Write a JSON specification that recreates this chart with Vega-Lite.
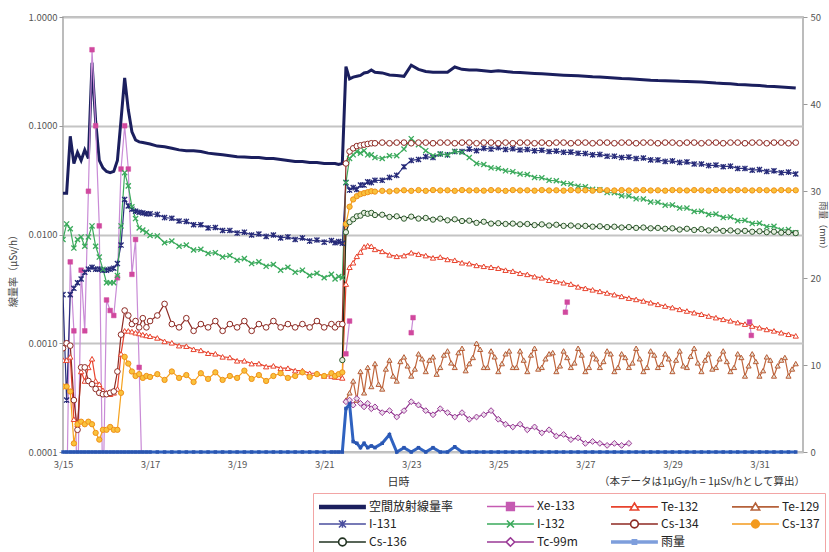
{
"$schema":"https://vega.github.io/schema/vega-lite/v6.json",
"width":740,"height":435,
"autosize":{"type":"none"},
"padding":{"left":63,"top":17,"right":26,"bottom":100},
"data":{"values":[
{"h":0,"A":0.024,"T2":0.0007,"I1":0.0028,"I2":0.009,"C4":0.0009,"C7":0.0004,"R":0},
{"h":2,"A":0.024,"Xe":0.00003,"T2":0.0007,"I1":0.0003,"I2":0.0125,"C4":0.001,"C7":0.0004,"R":0},
{"h":4,"A":0.08,"Xe":0.0056,"T2":0.00075,"I1":0.0028,"I2":0.0113,"C4":0.00095,"C7":0.00036,"R":0},
{"h":6,"A":0.045,"Xe":0.0013,"T2":0.0002,"I1":0.0032,"I2":0.0075,"C4":0.0003,"C7":0.00012,"R":0},
{"h":8,"A":0.057,"Xe":0.00003,"T2":0.00018,"I1":0.0036,"I2":0.009,"C4":0.00016,"C7":0.00018,"R":0},
{"h":10,"A":0.048,"Xe":0.0047,"T2":0.00055,"I1":0.0039,"I2":0.0095,"C4":0.0006,"C7":0.00019,"R":0},
{"h":12,"A":0.06,"Xe":0.0013,"T2":0.00045,"I1":0.0045,"I2":0.0078,"C4":0.0006,"C7":0.00018,"R":0},
{"h":14,"A":0.05,"Xe":0.025,"T2":0.0006,"I1":0.0048,"I2":0.0095,"C4":0.00045,"C7":0.00019,"R":0},
{"h":16,"A":0.38,"Xe":0.5,"T2":0.00072,"I1":0.005,"I2":0.012,"C4":0.00042,"C7":0.00018,"R":0},
{"h":18,"A":0.11,"Xe":0.1,"T2":0.00045,"I1":0.0048,"I2":0.0078,"C4":0.00038,"C7":0.00015,"R":0},
{"h":20,"A":0.048,"Xe":0.012,"T2":0.00042,"I1":0.0048,"I2":0.0062,"C4":0.00035,"C7":0.00013,"R":0},
{"h":22,"A":0.041,"Xe":0.00003,"T2":0.00037,"I1":0.0047,"I2":0.0048,"C4":0.00034,"C7":0.00016,"R":0},
{"h":24,"A":0.038,"Xe":0.0025,"T2":0.00035,"I1":0.0047,"I2":0.0036,"C4":0.00034,"C7":0.00016,"R":0},
{"h":26,"A":0.037,"Xe":0.002,"T2":0.00034,"I1":0.0048,"I2":0.0036,"C4":0.00035,"C7":0.00017,"R":0},
{"h":28,"A":0.038,"Xe":0.0018,"T2":0.00035,"I1":0.0049,"I2":0.0036,"C4":0.00036,"C7":0.00016,"R":0},
{"h":30,"A":0.048,"Xe":0.004,"T2":0.00038,"I1":0.0054,"I2":0.0042,"C4":0.00055,"C7":0.00016,"R":0},
{"h":32,"A":0.113,"Xe":0.04,"T2":0.0008,"I1":0.008,"I2":0.012,"C4":0.0012,"C7":0.00035,"R":0},
{"h":34,"A":0.275,"Xe":0.1,"T2":0.0013,"I1":0.021,"I2":0.037,"C4":0.002,"C7":0.00075,"R":0},
{"h":36,"A":0.14,"Xe":0.04,"T2":0.0013,"I1":0.0183,"I2":0.028,"C4":0.0018,"C7":0.00065,"R":0},
{"h":38,"A":0.088,"Xe":0.0043,"T2":0.00128,"I1":0.0171,"I2":0.018,"C4":0.0015,"C7":0.00055,"R":0},
{"h":40,"A":0.074,"Xe":0.009,"T2":0.00125,"I1":0.0164,"I2":0.014,"C4":0.0016,"C7":0.0005,"R":0},
{"h":42,"A":0.071,"Xe":0.0006,"T2":0.00123,"I1":0.016,"I2":0.0115,"C4":0.0014,"C7":0.00052,"R":0},
{"h":44,"A":0.07,"Xe":0.00003,"T2":0.0012,"I1":0.0158,"I2":0.011,"C4":0.0017,"C7":0.00048,"R":0},
{"h":46,"A":0.069,"T2":0.00118,"I1":0.0155,"I2":0.0105,"C4":0.0014,"C7":0.0005,"R":0},
{"h":48,"A":0.068,"T2":0.00116,"I1":0.0155,"I2":0.0098,"C4":0.0016,"C7":0.00049,"R":0},
{"h":52,"A":0.065,"T2":0.00112,"I1":0.0153,"I2":0.0097,"C4":0.0018,"C7":0.00052,"R":0},
{"h":56,"A":0.064,"T2":0.00104,"I1":0.0143,"I2":0.0084,"C4":0.0023,"C7":0.00046,"R":0},
{"h":60,"A":0.062,"T2":0.00101,"I1":0.0141,"I2":0.0087,"C4":0.0015,"C7":0.00055,"R":0},
{"h":64,"A":0.06,"T2":0.00095,"I1":0.0133,"I2":0.0078,"C4":0.0014,"C7":0.00048,"R":0},
{"h":68,"A":0.059,"T2":0.00094,"I1":0.0132,"I2":0.008,"C4":0.0017,"C7":0.00051,"R":0},
{"h":72,"A":0.059,"T2":0.00088,"I1":0.0123,"I2":0.0072,"C4":0.0013,"C7":0.00044,"R":0},
{"h":76,"A":0.058,"T2":0.00086,"I1":0.0123,"I2":0.0073,"C4":0.0015,"C7":0.00053,"R":0},
{"h":80,"A":0.056,"T2":0.00081,"I1":0.0115,"I2":0.0067,"C4":0.0014,"C7":0.00047,"R":0},
{"h":84,"A":0.055,"T2":0.0008,"I1":0.0116,"I2":0.0068,"C4":0.0016,"C7":0.00054,"R":0},
{"h":88,"A":0.054,"T2":0.00075,"I1":0.0109,"I2":0.0062,"C4":0.0013,"C7":0.00046,"R":0},
{"h":92,"A":0.053,"T2":0.00074,"I1":0.0109,"I2":0.0064,"C4":0.0015,"C7":0.0005,"R":0},
{"h":96,"A":0.052,"T2":0.00069,"I1":0.0103,"I2":0.0058,"C4":0.0014,"C7":0.00048,"R":0},
{"h":100,"A":0.0515,"T2":0.00069,"I1":0.0105,"I2":0.006,"C4":0.0016,"C7":0.00056,"R":0},
{"h":104,"A":0.051,"T2":0.00065,"I1":0.0099,"I2":0.0054,"C4":0.0013,"C7":0.00047,"R":0},
{"h":108,"A":0.051,"T2":0.00065,"I1":0.0101,"I2":0.0056,"C4":0.0015,"C7":0.00051,"R":0},
{"h":112,"A":0.05,"T2":0.00061,"I1":0.0096,"I2":0.0051,"C4":0.0014,"C7":0.00045,"R":0},
{"h":116,"A":0.05,"T2":0.00062,"I1":0.0099,"I2":0.0053,"C4":0.0016,"C7":0.0005,"R":0},
{"h":120,"A":0.049,"T2":0.00059,"I1":0.0093,"I2":0.0047,"C4":0.0014,"C7":0.00053,"R":0},
{"h":124,"A":0.048,"T2":0.00059,"I1":0.0095,"I2":0.005,"C4":0.0015,"C7":0.00048,"R":0},
{"h":128,"A":0.047,"T2":0.00056,"I1":0.009,"I2":0.0045,"C4":0.0014,"C7":0.0005,"R":0},
{"h":132,"A":0.047,"T2":0.00056,"I1":0.0093,"I2":0.0047,"C4":0.0015,"C7":0.00054,"R":0},
{"h":136,"A":0.046,"T2":0.00053,"I1":0.0087,"I2":0.0042,"C4":0.0014,"C7":0.00049,"R":0},
{"h":140,"A":0.046,"T2":0.00053,"I1":0.0089,"I2":0.0044,"C4":0.0016,"C7":0.00052,"R":0},
{"h":144,"A":0.045,"T2":0.0005,"I1":0.0085,"I2":0.004,"C4":0.0014,"C7":0.0005,"R":0},
{"h":148,"A":0.045,"T2":0.0005,"I1":0.0088,"I2":0.0043,"C4":0.0015,"C7":0.00053,"R":0},
{"h":150,"A":0.045,"T2":0.00049,"I1":0.0084,"I2":0.0039,"C4":0.0014,"C7":0.0005,"R":0},
{"h":152,"A":0.044,"T2":0.00049,"I1":0.0086,"I2":0.0041,"C4":0.0015,"C7":0.00052,"R":0},
{"h":154,"A":0.045,"T2":0.00048,"I1":0.0083,"I2":0.004,"C4":0.0015,"C7":0.00054,"C6":0.0007,"R":0},
{"h":156,"A":0.35,"Xe":0.0008,"T2":0.0035,"T9":0.0003,"I1":0.03,"I2":0.03,"C4":0.045,"C7":0.0125,"C6":0.0105,"Tc":0.00029,"R":5.0},
{"h":158,"A":0.27,"Xe":0.0016,"T2":0.005,"T9":0.00035,"I1":0.0256,"I2":0.05,"C4":0.058,"C7":0.018,"C6":0.013,"Tc":0.0003,"R":5.5},
{"h":160,"A":0.28,"T2":0.0055,"T9":0.00045,"I1":0.027,"I2":0.054,"C4":0.062,"C7":0.021,"C6":0.0138,"Tc":0.00027,"R":1.2},
{"h":162,"A":0.285,"T2":0.0063,"T9":0.0003,"I1":0.026,"I2":0.058,"C4":0.065,"C7":0.0225,"C6":0.0147,"Tc":0.00031,"R":1.0},
{"h":164,"A":0.29,"T2":0.0069,"T9":0.00055,"I1":0.0285,"I2":0.056,"C4":0.066,"C7":0.0235,"C6":0.0149,"Tc":0.00028,"R":0.5},
{"h":166,"A":0.306,"T2":0.0077,"T9":0.00035,"I1":0.0285,"I2":0.059,"C4":0.067,"C7":0.024,"C6":0.0158,"Tc":0.00026,"R":1.0},
{"h":168,"A":0.31,"T2":0.0079,"T9":0.0006,"I1":0.0305,"I2":0.054,"C4":0.068,"C7":0.0245,"C6":0.0155,"Tc":0.00028,"R":0.5},
{"h":170,"A":0.326,"T2":0.0078,"T9":0.0004,"I1":0.03,"I2":0.054,"C4":0.069,"C7":0.025,"C6":0.0158,"Tc":0.00025,"R":0.7},
{"h":172,"A":0.31,"T2":0.0073,"T9":0.00065,"I1":0.0315,"I2":0.051,"C4":0.069,"C7":0.0248,"C6":0.0151,"Tc":0.00026,"R":0.5},
{"h":176,"A":0.306,"T2":0.007,"T9":0.00038,"I1":0.0315,"I2":0.05,"C4":0.07,"C7":0.0252,"C6":0.0152,"Tc":0.00023,"R":1.0},
{"h":180,"A":0.293,"T2":0.0065,"T9":0.0007,"I1":0.0335,"I2":0.053,"C4":0.069,"C7":0.0249,"C6":0.0145,"Tc":0.00024,"R":2.0},
{"h":184,"A":0.29,"T2":0.0063,"T9":0.00045,"I1":0.035,"I2":0.053,"C4":0.07,"C7":0.0253,"C6":0.0147,"Tc":0.00021,"R":0},
{"h":188,"A":0.285,"T2":0.0064,"T9":0.00075,"I1":0.042,"I2":0.061,"C4":0.07,"C7":0.0255,"C6":0.014,"Tc":0.00024,"R":0.5},
{"h":192,"A":0.36,"Xe":0.00125,"T2":0.0068,"T9":0.0005,"I1":0.048,"I2":0.076,"C4":0.069,"C7":0.0252,"C6":0.0146,"Tc":0.00029,"R":0},
{"h":193,"Xe":0.00172},
{"h":196,"A":0.33,"T2":0.0066,"T9":0.0008,"I1":0.049,"I2":0.067,"C4":0.07,"C7":0.0256,"C6":0.014,"Tc":0.00027,"R":0.5},
{"h":200,"A":0.315,"T2":0.0064,"T9":0.00055,"I1":0.052,"I2":0.059,"C4":0.07,"C7":0.0252,"C6":0.0142,"Tc":0.00024,"R":0},
{"h":204,"A":0.31,"T2":0.0061,"T9":0.00075,"I1":0.051,"I2":0.053,"C4":0.069,"C7":0.0256,"C6":0.0137,"Tc":0.00022,"R":0.5},
{"h":208,"A":0.31,"T2":0.0062,"T9":0.0006,"I1":0.055,"I2":0.055,"C4":0.07,"C7":0.0254,"C6":0.014,"Tc":0.00025,"R":0},
{"h":212,"A":0.31,"T2":0.0059,"T9":0.00085,"I1":0.054,"I2":0.054,"C4":0.07,"C7":0.0255,"C6":0.0135,"Tc":0.00023,"R":0},
{"h":216,"A":0.347,"T2":0.0058,"T9":0.0006,"I1":0.058,"I2":0.058,"C4":0.069,"C7":0.0252,"C6":0.0138,"Tc":0.00021,"R":0.6},
{"h":220,"A":0.33,"T2":0.0055,"T9":0.0009,"I1":0.058,"I2":0.057,"C4":0.07,"C7":0.0256,"C6":0.0133,"Tc":0.00023,"R":0},
{"h":224,"A":0.325,"T2":0.0054,"T9":0.00065,"I1":0.061,"I2":0.051,"C4":0.07,"C7":0.0254,"C6":0.0134,"Tc":0.0002,"R":0},
{"h":228,"A":0.325,"T2":0.0052,"T9":0.001,"I1":0.059,"I2":0.045,"C4":0.069,"C7":0.0255,"C6":0.0128,"Tc":0.00021,"R":0},
{"h":232,"A":0.32,"T2":0.0051,"T9":0.0006,"I1":0.062,"I2":0.044,"C4":0.07,"C7":0.0253,"C6":0.0131,"Tc":0.00022,"R":0},
{"h":236,"A":0.315,"T2":0.005,"T9":0.00085,"I1":0.061,"I2":0.041,"C4":0.07,"C7":0.0256,"C6":0.0126,"Tc":0.00024,"R":0},
{"h":240,"A":0.32,"T2":0.0049,"T9":0.00055,"I1":0.063,"I2":0.0405,"C4":0.069,"C7":0.0255,"C6":0.0127,"Tc":0.0002,"R":0},
{"h":244,"A":0.315,"T2":0.0047,"T9":0.0008,"I1":0.0605,"I2":0.0385,"C4":0.07,"C7":0.0252,"C6":0.0125,"Tc":0.00018,"R":0},
{"h":248,"A":0.31,"T2":0.0046,"T9":0.0006,"I1":0.0615,"I2":0.0378,"C4":0.069,"C7":0.0256,"C6":0.0126,"Tc":0.00017,"R":0},
{"h":252,"A":0.308,"T2":0.0044,"T9":0.00085,"I1":0.0598,"I2":0.036,"C4":0.07,"C7":0.0254,"C6":0.0124,"Tc":0.00018,"R":0},
{"h":256,"A":0.305,"T2":0.0043,"T9":0.00055,"I1":0.0605,"I2":0.0356,"C4":0.07,"C7":0.0255,"C6":0.0125,"Tc":0.00016,"R":0},
{"h":260,"A":0.302,"T2":0.0041,"T9":0.0009,"I1":0.0588,"I2":0.0335,"C4":0.069,"C7":0.0253,"C6":0.0122,"Tc":0.00017,"R":0},
{"h":264,"A":0.3,"T2":0.004,"T9":0.0006,"I1":0.0595,"I2":0.0332,"C4":0.07,"C7":0.0256,"C6":0.0124,"Tc":0.00015,"R":0},
{"h":268,"A":0.298,"T2":0.0038,"T9":0.0008,"I1":0.058,"I2":0.0315,"C4":0.069,"C7":0.0254,"C6":0.0121,"Tc":0.00016,"R":0},
{"h":272,"A":0.295,"T2":0.0037,"T9":0.00055,"I1":0.0585,"I2":0.0312,"C4":0.07,"C7":0.0255,"C6":0.0123,"Tc":0.00014,"R":0},
{"h":276,"A":0.292,"T2":0.0036,"T9":0.00085,"I1":0.057,"I2":0.0296,"C4":0.07,"C7":0.0253,"C6":0.012,"Tc":0.000145,"R":0},
{"h":277,"Xe":0.00193},
{"h":278,"Xe":0.00239,"T9":0.00074},
{"h":280,"A":0.29,"T2":0.0035,"T9":0.0006,"I1":0.0572,"I2":0.0292,"C4":0.069,"C7":0.0256,"C6":0.0121,"Tc":0.00013,"R":0},
{"h":284,"A":0.288,"T2":0.0033,"T9":0.0009,"I1":0.0558,"I2":0.0278,"C4":0.07,"C7":0.0254,"C6":0.0119,"Tc":0.000135,"R":0},
{"h":288,"A":0.285,"T2":0.0032,"T9":0.00055,"I1":0.0555,"I2":0.0275,"C4":0.07,"C7":0.0255,"C6":0.012,"Tc":0.00012,"R":0},
{"h":292,"A":0.282,"T2":0.0031,"T9":0.0008,"I1":0.054,"I2":0.026,"C4":0.069,"C7":0.0253,"C6":0.0118,"Tc":0.000125,"R":0},
{"h":296,"A":0.28,"T2":0.003,"T9":0.0006,"I1":0.0545,"I2":0.0258,"C4":0.07,"C7":0.0256,"C6":0.0119,"Tc":0.00012,"R":0},
{"h":300,"A":0.278,"T2":0.0029,"T9":0.00085,"I1":0.0525,"I2":0.0243,"C4":0.07,"C7":0.0255,"C6":0.0117,"Tc":0.000115,"R":0},
{"h":304,"A":0.275,"T2":0.0028,"T9":0.00055,"I1":0.0525,"I2":0.0242,"C4":0.069,"C7":0.0254,"C6":0.0118,"Tc":0.00012,"R":0},
{"h":308,"A":0.272,"T2":0.0027,"T9":0.0008,"I1":0.051,"I2":0.0227,"C4":0.07,"C7":0.0256,"C6":0.0116,"Tc":0.000115,"R":0},
{"h":312,"A":0.27,"T2":0.0026,"T9":0.0006,"I1":0.0515,"I2":0.0226,"C4":0.07,"C7":0.0254,"C6":0.0117,"Tc":0.00012,"R":0},
{"h":316,"A":0.268,"T2":0.00253,"T9":0.0009,"I1":0.05,"I2":0.0213,"C4":0.069,"C7":0.0255,"C6":0.0115,"R":0},
{"h":320,"A":0.265,"T2":0.00245,"T9":0.00055,"I1":0.0505,"I2":0.0212,"C4":0.07,"C7":0.0256,"C6":0.0116,"R":0},
{"h":324,"A":0.262,"T2":0.00236,"T9":0.00085,"I1":0.0485,"I2":0.0199,"C4":0.07,"C7":0.0254,"C6":0.0114,"R":0},
{"h":328,"A":0.26,"T2":0.00228,"T9":0.0006,"I1":0.0485,"I2":0.0198,"C4":0.069,"C7":0.0255,"C6":0.0115,"R":0},
{"h":332,"A":0.259,"T2":0.0022,"T9":0.0008,"I1":0.047,"I2":0.0186,"C4":0.07,"C7":0.0253,"C6":0.0113,"R":0},
{"h":336,"A":0.258,"T2":0.00213,"T9":0.00055,"I1":0.0475,"I2":0.0187,"C4":0.07,"C7":0.0256,"C6":0.0114,"R":0},
{"h":340,"A":0.256,"T2":0.00205,"T9":0.00085,"I1":0.046,"I2":0.0175,"C4":0.069,"C7":0.0255,"C6":0.0111,"R":0},
{"h":344,"A":0.255,"T2":0.00198,"T9":0.0006,"I1":0.0465,"I2":0.0175,"C4":0.07,"C7":0.0254,"C6":0.0113,"R":0},
{"h":348,"A":0.254,"T2":0.00191,"T9":0.0009,"I1":0.0445,"I2":0.0163,"C4":0.07,"C7":0.0256,"C6":0.011,"R":0},
{"h":352,"A":0.252,"T2":0.00185,"T9":0.00055,"I1":0.0445,"I2":0.0164,"C4":0.069,"C7":0.0255,"C6":0.0112,"R":0},
{"h":356,"A":0.25,"T2":0.00178,"T9":0.0008,"I1":0.043,"I2":0.0153,"C4":0.07,"C7":0.0253,"C6":0.0109,"R":0},
{"h":360,"A":0.247,"T2":0.00172,"T9":0.0006,"I1":0.0435,"I2":0.0154,"C4":0.07,"C7":0.0256,"C6":0.0111,"R":0},
{"h":364,"A":0.245,"T2":0.00166,"T9":0.00085,"I1":0.042,"I2":0.0143,"C4":0.069,"C7":0.0255,"C6":0.0108,"R":0},
{"h":368,"A":0.243,"T2":0.00161,"T9":0.00055,"I1":0.0425,"I2":0.0145,"C4":0.07,"C7":0.0254,"C6":0.0109,"R":0},
{"h":372,"A":0.24,"T2":0.00155,"T9":0.0008,"I1":0.0405,"I2":0.0134,"C4":0.07,"C7":0.0256,"C6":0.0107,"R":0},
{"h":376,"A":0.238,"T2":0.0015,"T9":0.0005,"I1":0.0405,"I2":0.0135,"C4":0.069,"C7":0.0255,"C6":0.0108,"R":0},
{"h":378.5,"Xe":0.00157},
{"h":379.5,"Xe":0.00118},
{"h":380,"A":0.236,"T2":0.00144,"T9":0.0008,"I1":0.039,"I2":0.0126,"C4":0.07,"C7":0.0254,"C6":0.0106,"R":0},
{"h":384,"A":0.234,"T2":0.00139,"T9":0.0005,"I1":0.0395,"I2":0.0127,"C4":0.07,"C7":0.0256,"C6":0.0107,"R":0},
{"h":388,"A":0.231,"T2":0.00134,"T9":0.00075,"I1":0.038,"I2":0.0118,"C4":0.069,"C7":0.0255,"C6":0.0105,"R":0},
{"h":392,"A":0.229,"T2":0.0013,"T9":0.0005,"I1":0.0385,"I2":0.0119,"C4":0.07,"C7":0.0254,"C6":0.0106,"R":0},
{"h":396,"A":0.227,"T2":0.00125,"T9":0.0007,"I1":0.037,"I2":0.011,"C4":0.07,"C7":0.0256,"C6":0.0104,"R":0},
{"h":400,"A":0.225,"T2":0.00121,"T9":0.0005,"I1":0.0375,"I2":0.0111,"C4":0.069,"C7":0.0255,"C6":0.0105,"R":0},
{"h":404,"A":0.222,"T2":0.00117,"T9":0.00065,"I1":0.036,"I2":0.0104,"C4":0.07,"C7":0.0255,"C6":0.0103,"R":0},
{"h":174,"T9":0.00042},{"h":178,"T9":0.00058},{"h":182,"T9":0.0005},{"h":186,"T9":0.00068},{"h":190,"T9":0.00062},
{"h":194,"T9":0.00058},{"h":198,"T9":0.00072},{"h":202,"T9":0.0007},{"h":206,"T9":0.00052},{"h":210,"T9":0.00078},
{"h":214,"T9":0.00066},{"h":218,"T9":0.00082},{"h":222,"T9":0.00056},{"h":226,"T9":0.00074},{"h":230,"T9":0.00088},
{"h":234,"T9":0.0006},{"h":238,"T9":0.00075},{"h":242,"T9":0.00065},{"h":246,"T9":0.00085},{"h":250,"T9":0.0006},
{"h":254,"T9":0.0007},{"h":258,"T9":0.00078},{"h":262,"T9":0.00058},{"h":266,"T9":0.00072},{"h":270,"T9":0.00082},
{"h":274,"T9":0.00062},{"h":282,"T9":0.00066},{"h":286,"T9":0.00078},{"h":290,"T9":0.0006},
{"h":294,"T9":0.00072},{"h":298,"T9":0.00068},{"h":302,"T9":0.0008},{"h":306,"T9":0.0006},{"h":310,"T9":0.00074},
{"h":314,"T9":0.00066},{"h":318,"T9":0.00072},{"h":322,"T9":0.0006},{"h":326,"T9":0.00078},{"h":330,"T9":0.00064},
{"h":334,"T9":0.00072},{"h":338,"T9":0.0007},{"h":342,"T9":0.00062},{"h":346,"T9":0.00076},{"h":350,"T9":0.00066},
{"h":354,"T9":0.0007},{"h":358,"T9":0.00058},{"h":362,"T9":0.00072},{"h":366,"T9":0.00068},{"h":370,"T9":0.0006},
{"h":374,"T9":0.00074},{"h":378,"T9":0.00062},{"h":382,"T9":0.00068},{"h":386,"T9":0.00056},{"h":390,"T9":0.0007},
{"h":394,"T9":0.00062},{"h":398,"T9":0.00074},{"h":402,"T9":0.00058}
]},
"transform":[{"fold":["A","Xe","T2","T9","I1","I2","C4","C7","C6","Tc","R"],"as":["s","v"]}],
"encoding":{"x":{"field":"h","type":"quantitative","scale":{"domain":[0,408],"nice":false,"zero":false},
 "axis":{"values":[0,48,96,144,192,240,288,336,384],"labelExpr":"'3/' + (15 + datum.value/24)","title":"日時","grid":false,"ticks":false,"domain":false,"labelFlush":false,"labelPadding":7,"labelFontSize":9.5,"labelColor":"#555555","titleFontSize":11,"titleFontWeight":"normal","titleColor":"#333333","titleX":335,"titleY":30,"titleBaseline":"middle"}}},
"layer":[
 {"encoding":{"y":{"field":"v","type":"quantitative","scale":{"type":"log","domain":[0.0001,1],"nice":false},
   "axis":{"values":[0.0001,0.001,0.01,0.1,1],"format":".4f","title":"線量率（μSv/h）","grid":true,"gridColor":"#C4C4C4","gridWidth":2,"domain":false,"tickSize":4,"tickColor":"#999999","labelPadding":2,"labelFontSize":9.5,"labelColor":"#555555","titleFontSize":10,"titleFontWeight":"normal","titleColor":"#444444","titleX":-50,"titleY":251,"titleBaseline":"middle"}}},
  "layer":[
   {"transform":[{"filter":"datum.s=='A' && isValid(datum.v)"}],"mark":{"type":"line","color":"#1B1F5E","strokeWidth":3,"clip":true},"encoding":{}},
   {"transform":[{"filter":"datum.s!='A' && datum.s!='R' && (isValid(datum.v) || datum.s=='Xe')"}],"mark":{"type":"line","strokeWidth":1.2,"clip":true,"invalid":"break-paths-filter-domains"},
    "encoding":{"stroke":{"field":"s","type":"nominal","scale":{"domain":["Xe","T2","T9","I1","I2","C4","C7","C6","Tc"],"range":["#C98BD6","#E8432D","#C0663D","#2B2F7E","#3BAA5C","#8E2A23","#F5A21E","#1E2A1E","#8E2F8C"]},"legend":null}}},
   {"transform":[{"filter":"datum.s=='Xe'"}],"mark":{"type":"point","shape":"square","filled":true,"fill":"#D0489E","stroke":"#D0489E","strokeWidth":0.5,"size":22,"opacity":1,"clip":true}},
   {"transform":[{"filter":"datum.s=='T2'"}],"mark":{"type":"point","shape":"triangle-up","filled":true,"fill":"#FFFFFF","stroke":"#E8432D","strokeWidth":1,"size":28,"opacity":1,"clip":true}},
   {"transform":[{"filter":"datum.s=='T9'"}],"mark":{"type":"point","shape":"triangle-up","filled":true,"fill":"#E4DED2","stroke":"#B85C35","strokeWidth":1,"size":26,"opacity":1,"clip":true}},
   {"transform":[{"filter":"datum.s=='I1'"}],"mark":{"type":"point","shape":"M-1,-1L1,1M-1,1L1,-1M0,-1.1V1.1","filled":false,"stroke":"#262A78","strokeWidth":1.3,"size":26,"opacity":1,"clip":true}},
   {"transform":[{"filter":"datum.s=='I2'"}],"mark":{"type":"point","shape":"M-1,-1L1,1M-1,1L1,-1","filled":false,"stroke":"#3BAA5C","strokeWidth":1.3,"size":26,"opacity":1,"clip":true}},
   {"transform":[{"filter":"datum.s=='C4'"}],"mark":{"type":"point","shape":"circle","filled":true,"fill":"#FFFFFF","stroke":"#8E2A23","strokeWidth":1,"size":32,"opacity":1,"clip":true}},
   {"transform":[{"filter":"datum.s=='C7'"}],"mark":{"type":"point","shape":"circle","filled":true,"fill":"#F9C23C","stroke":"#F0901A","strokeWidth":1,"size":28,"opacity":1,"clip":true}},
   {"transform":[{"filter":"datum.s=='C6'"}],"mark":{"type":"point","shape":"circle","filled":true,"fill":"#E6EFE0","stroke":"#2D5A2D","strokeWidth":1,"size":28,"opacity":1,"clip":true}},
   {"transform":[{"filter":"datum.s=='Tc'"}],"mark":{"type":"point","shape":"diamond","filled":true,"fill":"#EBDDEB","stroke":"#9A3A96","strokeWidth":1,"size":34,"opacity":1,"clip":true}},
   {"transform":[{"filter":"false"}],"mark":{"type":"point","filled":false,"opacity":1},
    "encoding":{
     "color":{"field":"name","type":"nominal","scale":{"domain":["空間放射線量率","Xe-133","Te-132","Te-129","I-131","I-132","Cs-134","Cs-137","Cs-136","Tc-99m","雨量"],"range":["#1B1F5E","#C55BB2","#E8432D","#B5613A","#4B4F9E","#3BAA5C","#8E2A23","#F39A1E","#223322","#9A3A96","#7E9EDC"]},"legend":{"title":null}},
     "shape":{"field":"name","type":"nominal","scale":{"domain":["空間放射線量率","Xe-133","Te-132","Te-129","I-131","I-132","Cs-134","Cs-137","Cs-136","Tc-99m","雨量"],"range":[
      "M-1,-0.2H5.7M-1,0H5.7M-1,0.2H5.7",
      "M-1,0H5.7M1.8,-0.55H2.9V0.55H1.8ZM1.8,-0.35H2.9M1.8,-0.15H2.9M1.8,0.15H2.9M1.8,0.35H2.9",
      "M-1,0H2.02M2.68,0H5.7M2.35,-0.55L2.95,0.45H1.75Z",
      "M-1,0H2.02M2.68,0H5.7M2.35,-0.55L2.95,0.45H1.75Z",
      "M-1,0H5.7M1.85,-0.5L2.85,0.5M1.85,0.5L2.85,-0.5M2.35,-0.55V0.55",
      "M-1,0H5.7M1.85,-0.5L2.85,0.5M1.85,0.5L2.85,-0.5",
      "M-1,0H1.8M2.9,0H5.7M1.8,0A0.55,0.55 0 1,0 2.9,0A0.55,0.55 0 1,0 1.8,0Z",
      "M-1,0H5.7M1.8,0A0.55,0.55 0 1,0 2.9,0A0.55,0.55 0 1,0 1.8,0ZM2.05,-0.42H2.65M1.88,-0.25H2.82M1.82,-0.1H2.88M1.82,0.1H2.88M1.88,0.25H2.82M2.05,0.42H2.65",
      "M-1,0H1.8M2.9,0H5.7M1.8,0A0.55,0.55 0 1,0 2.9,0A0.55,0.55 0 1,0 1.8,0Z",
      "M-1,0H1.75M2.95,0H5.7M2.35,-0.6L2.95,0L2.35,0.6L1.75,0Z",
      "M-1,-0.15H5.7M-1,0H5.7M-1,0.15H5.7M2.05,-0.3H2.65V0.3H2.05ZM2.05,-0.15H2.65M2.05,0.15H2.65"]},"legend":{"title":null}}}},
   {"transform":[{"filter":"datum.s=='A' && datum.h==0"}],"mark":{"type":"text","text":"（本データは1μGy/h = 1μSv/hとして算出）","align":"right","baseline":"middle","dy":30,"dx":2,"fontSize":10.5,"color":"#333333"},"encoding":{"x":{"datum":408},"y":{"datum":0.0001}}}
  ]},
 {"transform":[{"filter":"datum.s=='R' && isValid(datum.v)"}],
  "encoding":{"y":{"field":"v","type":"quantitative","scale":{"domain":[0,50],"nice":false},
   "axis":{"orient":"right","values":[0,10,20,30,40,50],"title":"雨量（mm）","grid":false,"domain":false,"tickSize":4,"tickColor":"#999999","labelPadding":3,"labelFontSize":9.5,"labelColor":"#555555","titleFontSize":9,"titleFontWeight":"normal","titleColor":"#444444","titleX":19,"titleY":210,"titleBaseline":"middle"}}},
  "layer":[
   {"mark":{"type":"line","color":"#2F62C0","strokeWidth":3},"encoding":{}},
   {"mark":{"type":"point","shape":"square","filled":true,"fill":"#2A55B0","size":12,"opacity":1}}
  ]}
],
"resolve":{"scale":{"y":"independent"}},
"config":{
 "font":"Noto Sans CJK JP",
 "view":{"stroke":"#A6A6A6","strokeWidth":1.5},
 "legend":{"orient":"none","direction":"horizontal","legendX":250,"legendY":476,"columns":4,"symbolSize":196,"symbolStrokeWidth":1.6,"labelFontSize":12,"labelColor":"#222222","labelOffset":35,"columnPadding":29,"rowPadding":2,"padding":5,"strokeColor":"#F2A5A5","fillColor":"#FFFFFF","labelLimit":200}
}
}
